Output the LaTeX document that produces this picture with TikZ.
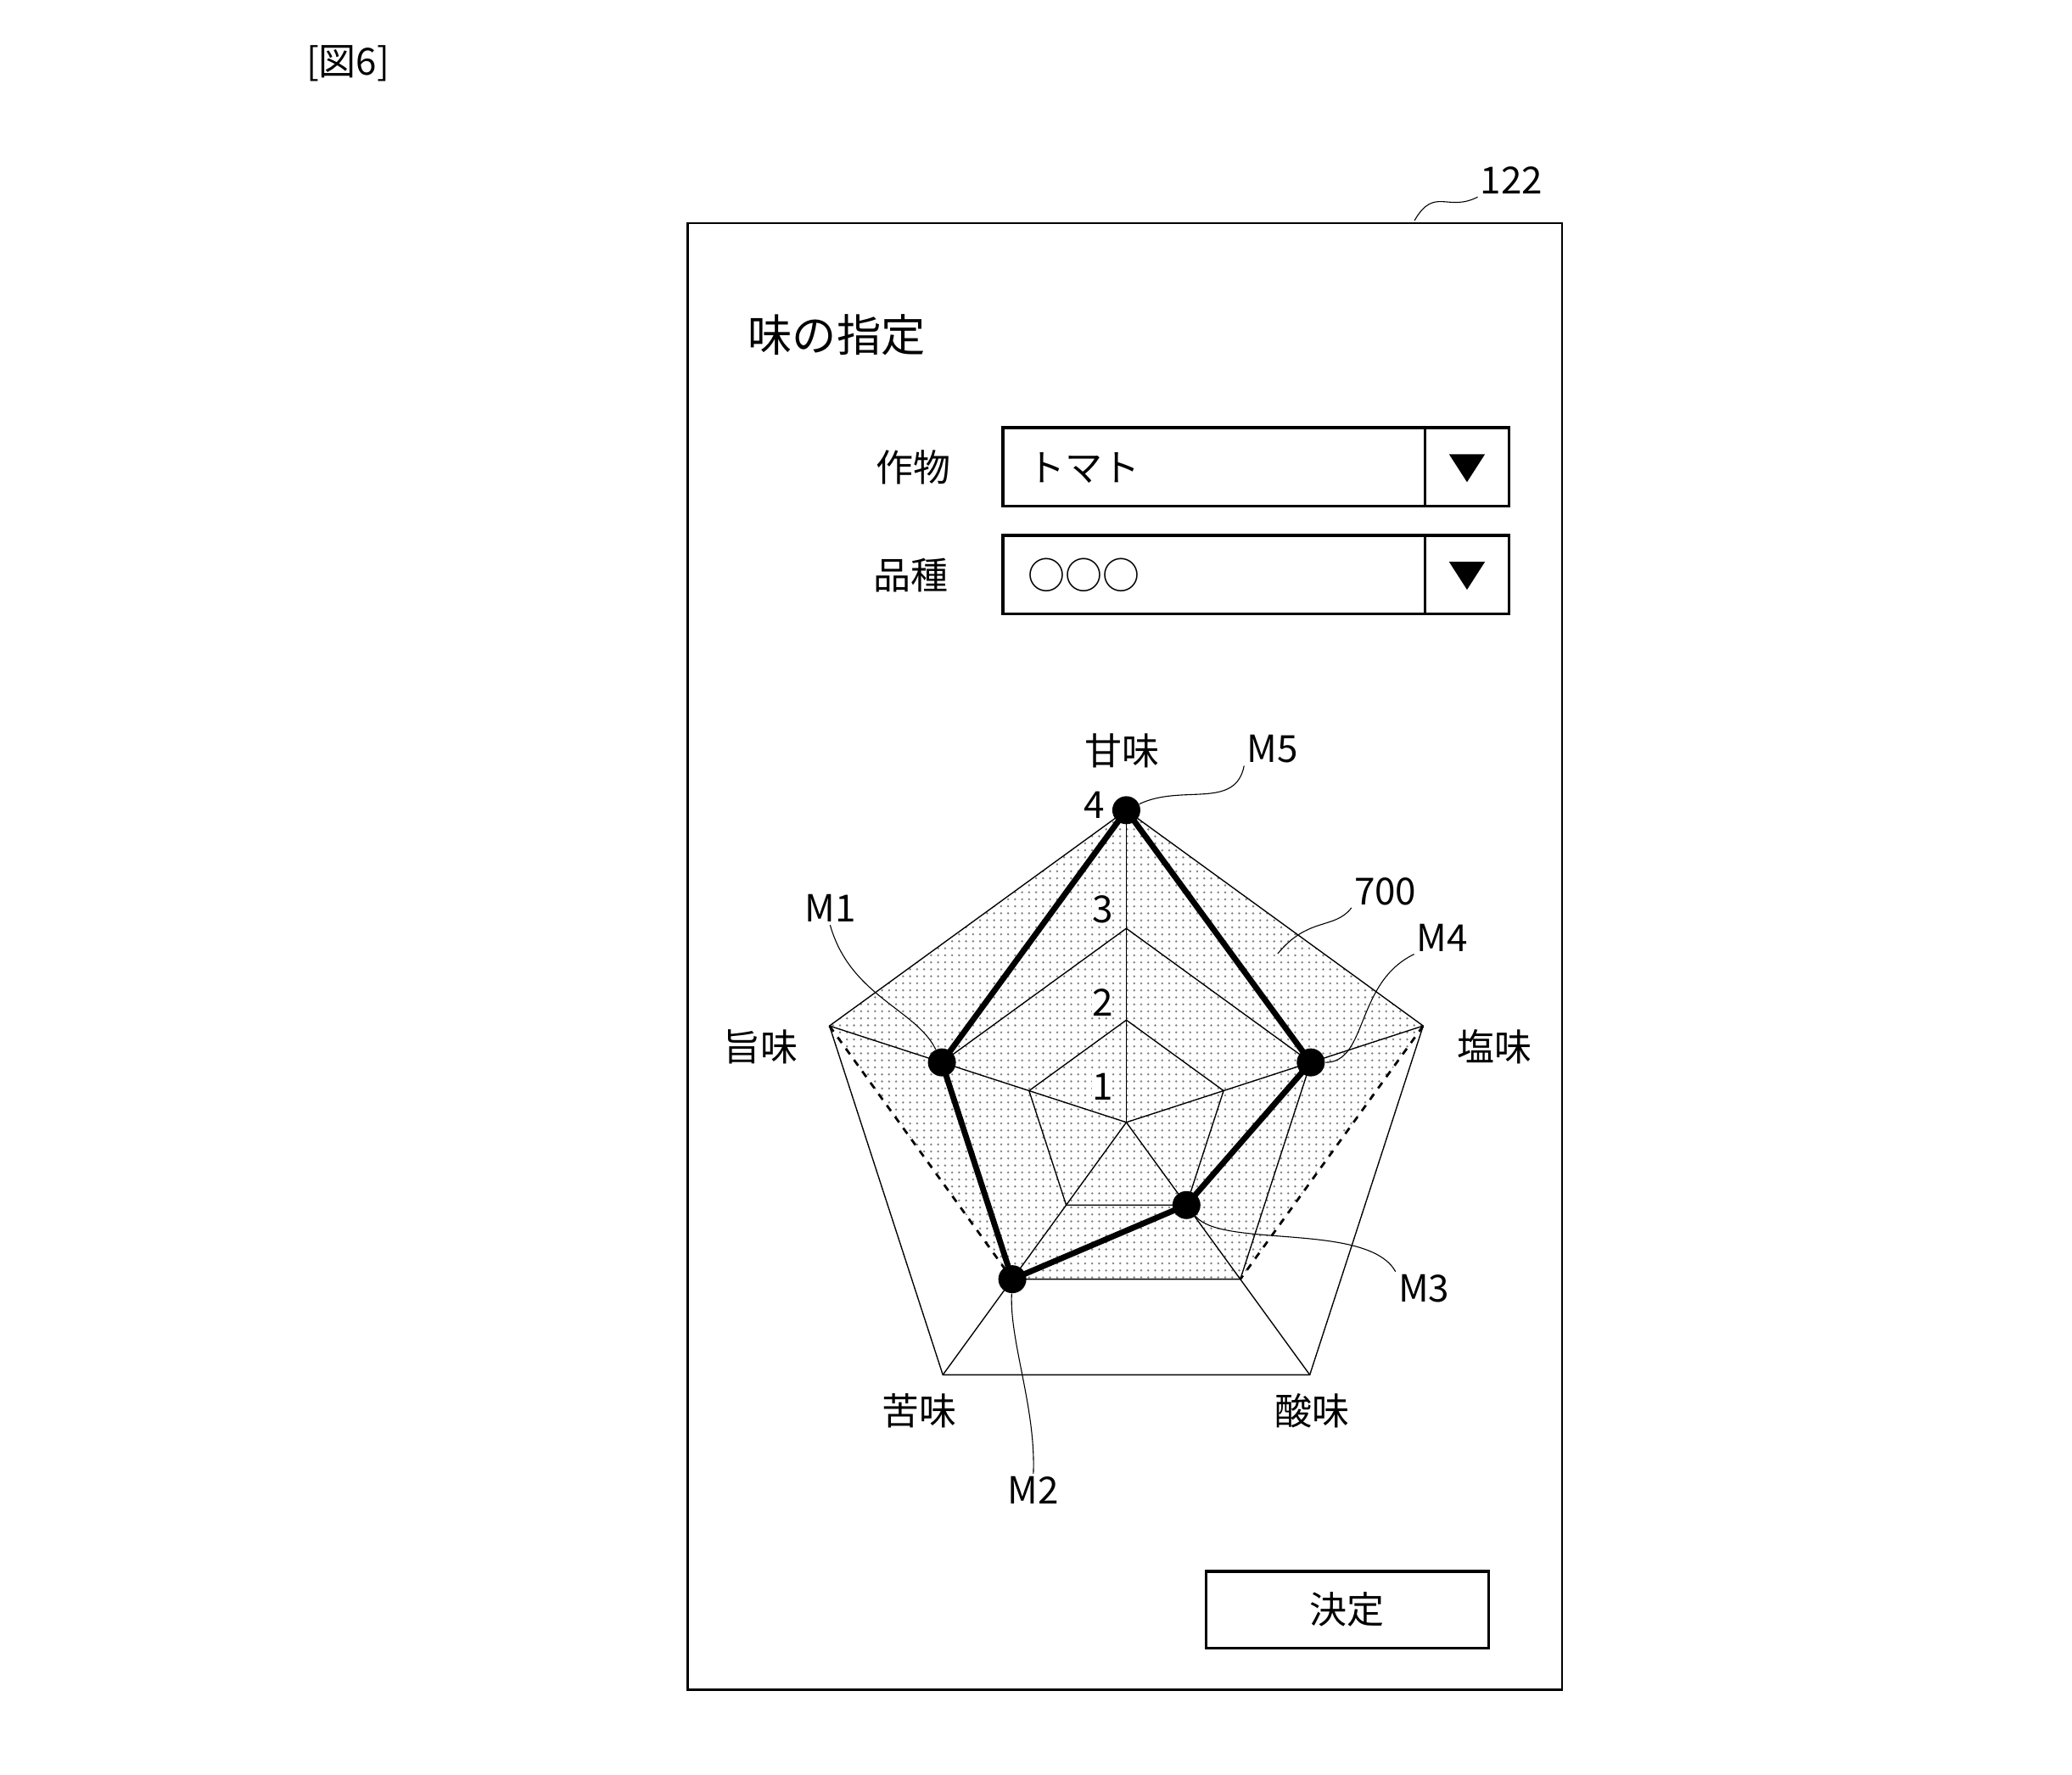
\documentclass[tikz,border=0pt]{standalone}
\usepackage{fontspec}
\setmainfont{Noto Sans CJK JP}
\usetikzlibrary{patterns,calc}
\tikzset{
    % plain text labels
    lbl/.style={font=\fontsize{16}{18}\selectfont, inner sep=1pt},
    % thin leader lines
    leader/.style={thin},
    % pentagon grid lines
    grid/.style={line width=0.5pt},
    % data points
    pt/.style={circle, fill=black, inner sep=0pt, minimum size=12pt},
    dropbox/.style={draw, line width=1.2pt},
}
\begin{document}
\begin{tikzpicture}[x=0.02cm,y=-0.02cm]
  \useasboundingbox (0,0) rectangle (1560,1336);
  \node[lbl] (fig) at (262,48) {[図6]};
  % panel
  \draw[line width=1pt] (518,168) rectangle (1176,1272);
  \node[lbl] (num) at (1138,136) {122};
  \coordinate (numend) at (1065,166);
  \draw[leader] (numend) .. controls (1080,140) and (1090,160) .. (num.south west);
  \node[lbl,font=\fontsize{19}{21}\selectfont] (title) at (630,252) {味の指定};
  % drop downs
  \node[lbl] (crop) at (688,352) {作物};
  \draw[dropbox] (755,322) rectangle (1136,381);
  \draw[line width=1pt] (1073,322) -- (1073,381);
  \node[lbl,anchor=west] (cropval) at (772,352) {トマト};
  \fill (1091,342) -- (1118,342) -- (1104.5,363) -- cycle;
  \node[lbl] (kind) at (686,433) {品種};
  \draw[dropbox] (755,403) rectangle (1136,462);
  \draw[line width=1pt] (1073,403) -- (1073,462);
  \node[lbl,anchor=west] (kindval) at (772,433) {○○○};
  \fill (1091,423) -- (1118,423) -- (1104.5,444) -- cycle;
  % radar chart
  \begin{scope}[shift={(848,845)}, y=0.02cm]
    \coordinate (c) at (0,0);
    \foreach \i/\a in {1/90,2/18,3/-54,4/-126,5/162}{
      \coordinate (ax\i) at (\a:235);
    }
    \fill[pattern=dots, pattern color=gray] (90:235) -- (18:235) -- (-54:146)
      -- (-126:146) -- (162:235) -- cycle;
    \foreach \r in {77,146,235}{
      \draw[grid] (90:\r) -- (18:\r) -- (-54:\r) -- (-126:\r) -- (162:\r) -- cycle;
    }
    \foreach \i in {1,...,5}{ \draw[grid] (c) -- (ax\i); }
    \draw[dashed, line width=1pt] (ax2) -- (-54:146);
    \draw[dashed, line width=1pt] (ax5) -- (-126:146);
    \node[pt] (m5) at (90:235) {};
    \node[pt] (m4) at (18:146) {};
    \node[pt] (m3) at (-54:77) {};
    \node[pt] (m2) at (-126:146) {};
    \node[pt] (m1) at (162:146) {};
    \draw[line width=2.5pt] (m5.center) -- (m4.center) -- (m3.center) -- (m2.center) -- (m1.center) -- cycle;
    \node[lbl,fill=white,inner sep=0pt] (t1) at (-18,27) {1};
    \node[lbl,fill=white,inner sep=0pt] (t2) at (-18,90) {2};
    \node[lbl,fill=white,inner sep=0pt] (t3) at (-18,160) {3};
    \node[lbl] (t4) at (-24,239) {4};
  \end{scope}
  % axis labels
  \node[lbl] (sweet) at (845,565) {甘味};
  \node[lbl] (salt) at (1125,788) {塩味};
  \node[lbl] (sour) at (988,1062) {酸味};
  \node[lbl] (bitter) at (692,1062) {苦味};
  \node[lbl] (umami) at (573,788) {旨味};
  % reference labels
  \node[lbl] (lm5) at (958,564) {M5};
  \node[lbl] (lm1) at (625,684) {M1};
  \node[lbl] (lm4) at (1086,706) {M4};
  \node[lbl] (lm3) at (1072,970) {M3};
  \node[lbl] (lm2) at (778,1122) {M2};
  \node[lbl] (l700) at (1043,671) {700};
  \coordinate (area) at (962,718);
  \draw[leader] (m5) .. controls (890,590) and (930,610) .. (lm5.south west);
  \draw[leader] (m1) .. controls (690,760) and (640,750) .. (lm1.south);
  \draw[leader] (m4) .. controls (1030,800) and (1020,740) .. (lm4.south west);
  \draw[leader] (m3) .. controls (920,940) and (1030,920) .. (lm3.north west);
  \draw[leader] (m2) .. controls (760,1010) and (780,1060) .. (lm2.north);
  \draw[leader] (area) .. controls (985,690) and (1005,700) .. (l700.south west);
  % button
  \draw[dropbox] (908,1183) rectangle (1121,1241);
  \node[lbl] (ok) at (1014,1212) {決定};
\end{tikzpicture}
\end{document}
